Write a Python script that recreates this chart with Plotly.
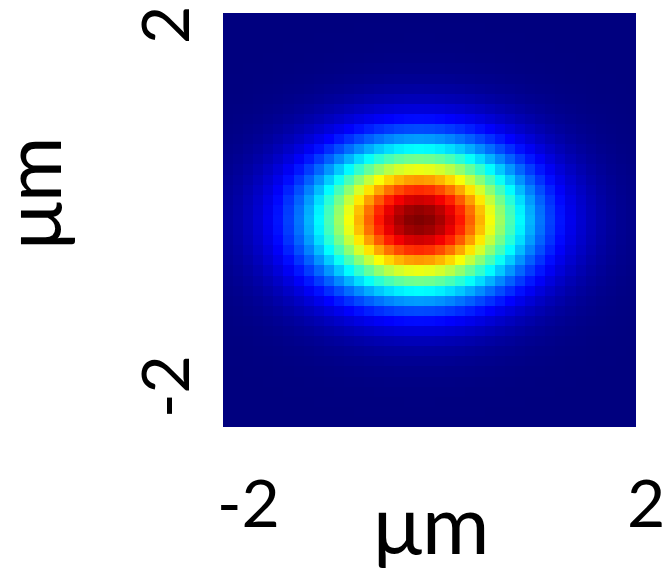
import plotly.graph_objects as go

# grid coordinates (um)
x_um = [round(-2 + 0.1 * i, 1) for i in range(41)]
y_um = [round(-2 + 0.1 * i, 1) for i in range(41)]

# intensity profile read along the centre row (left -> right)
x_profile = [0.028, 0.040, 0.057, 0.079, 0.107, 0.143, 0.187, 0.240, 0.301, 0.371,
             0.448, 0.530, 0.615, 0.700, 0.780, 0.853, 0.915, 0.961, 0.990, 1.000,
             0.990, 0.961, 0.915, 0.853, 0.780, 0.700, 0.615, 0.530, 0.448, 0.371,
             0.301, 0.240, 0.187, 0.143, 0.107, 0.079, 0.057, 0.040, 0.028, 0.019,
             0.013]
# intensity profile read along the centre column (bottom -> top)
y_profile = [0.0003, 0.0007, 0.0015, 0.003, 0.006, 0.011, 0.020, 0.034, 0.056, 0.089,
             0.135, 0.198, 0.278, 0.375, 0.487, 0.607, 0.726, 0.835, 0.923, 0.980,
             1.000, 0.980, 0.923, 0.835, 0.726, 0.607, 0.487, 0.375, 0.278, 0.198,
             0.135, 0.089, 0.056, 0.034, 0.020, 0.011, 0.006, 0.003, 0.0015, 0.0007,
             0.0003]

z = [[xv * yv for xv in x_profile] for yv in y_profile]

jet = [[0, "#00007F"], [0.125, "#0000FF"], [0.375, "#00FFFF"],
       [0.625, "#FFFF00"], [0.875, "#FF0000"], [1, "#7F0000"]]

fig = go.Figure(go.Heatmap(x=x_um, y=y_um, z=z, zmin=0, zmax=1,
                           colorscale=jet, showscale=False, hoverinfo="skip"))

fig.update_layout(width=670, height=571, margin=dict(l=223, r=34, t=13, b=144),
                  plot_bgcolor="white", paper_bgcolor="white",
                  font=dict(family="Lato", color="black"))
fig.update_xaxes(range=[-2.05, 2.05], visible=False)
fig.update_yaxes(range=[-2.05, 2.05], visible=False)

W, H = 413, 414  # plot area in px
def px(xp, yp):
    return (xp - 223) / W, (427 - yp) / H

labels = [
    ("-2", 248, 502, 0, 66),
    ("2", 646, 502, 0, 66),
    ("\u03bcm", 431, 522, 0, 82),
    ("2", 163, 25, -90, 66),
    ("-2", 163, 387, -90, 66),
    ("\u03bcm", 30, 193, -90, 80),
]
for txt, xp, yp, ang, size in labels:
    ax_, ay_ = px(xp, yp)
    fig.add_annotation(text=txt, x=ax_, y=ay_, xref="paper", yref="paper",
                       showarrow=False, textangle=ang, xanchor="center",
                       yanchor="middle", font=dict(size=size))

fig.write_html("out.html", config={"displayModeBar": False},
               post_script="document.body.style.margin='0';")
